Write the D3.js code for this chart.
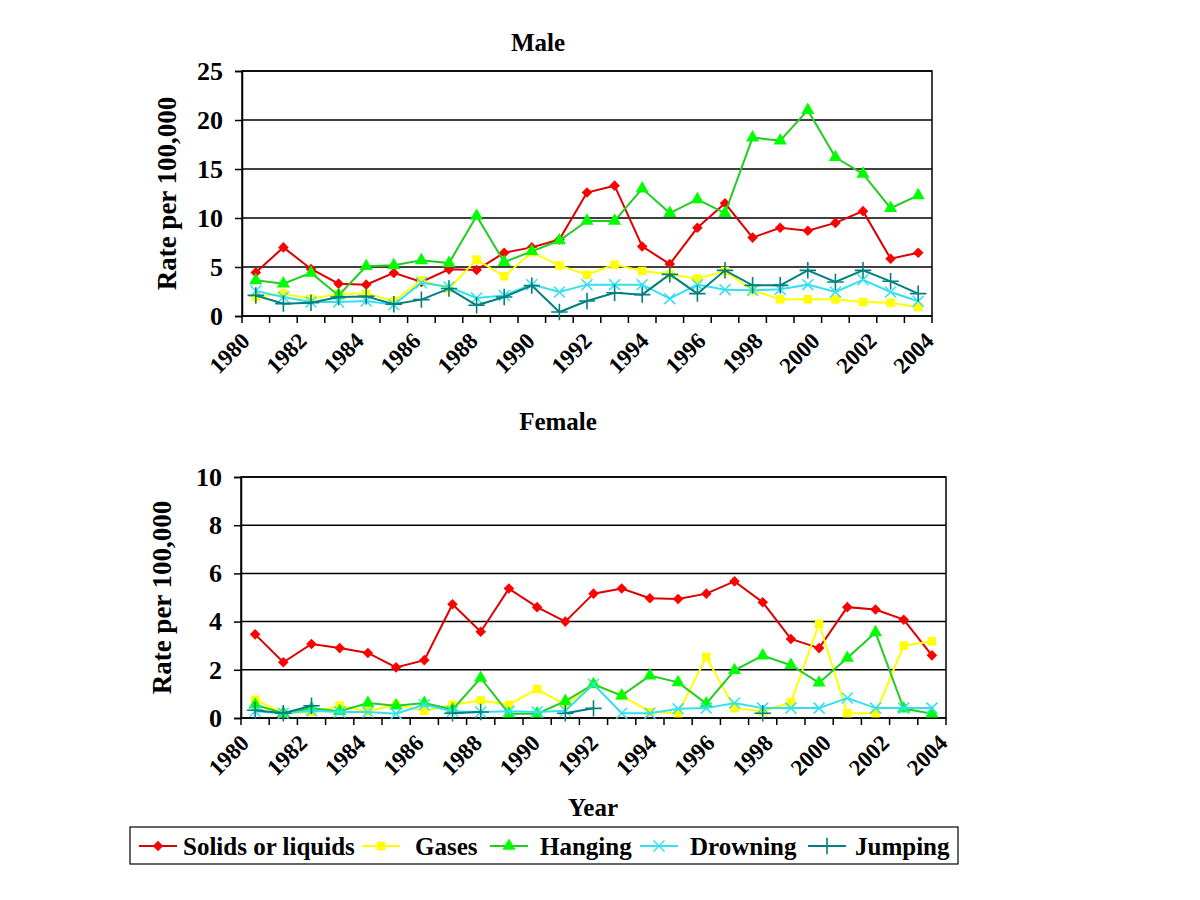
<!DOCTYPE html>
<html><head><meta charset="utf-8">
<script src="https://cdn.jsdelivr.net/npm/d3@7"></script>
<style>
body{margin:0;background:#fff;}
text{font-family:"Liberation Serif","Times New Roman",serif;font-weight:bold;fill:#000;}
</style>
</head><body>
<svg id="chart" width="1200" height="900"></svg>
<script>
const years = ["1980","1981","1982","1983","1984","1985","1986","1987","1988","1989","1990","1991","1992","1993","1994","1995","1996","1997","1998","1999","2000","2001","2002","2003","2004"];
const tickYears = ["1980","1982","1984","1986","1988","1990","1992","1994","1996","1998","2000","2002","2004"];
const seriesNames = ["Solids or liquids","Gases","Hanging","Drowning","Jumping"];
const lineColors = ["#dd0000","#ffff00","#22cc22","#33e0f0","#008080"];
const markerColors = ["#ff0000","#ffff00","#00ff00","#33e0f0","#008080"];

const maleTicks = [0,5,10,15,20,25];
const femaleTicks = [0,2,4,6,8,10];

const maleSolids   = [4.45,7.0,4.8,3.3,3.2,4.4,3.47,4.76,4.7,6.45,7.0,7.8,12.6,13.3,7.1,5.3,9.0,11.5,8.0,9.0,8.7,9.5,10.7,5.85,6.45];
const maleGases    = [1.94,2.28,1.77,2.28,2.28,1.53,3.64,2.8,5.75,4.05,6.5,5.17,4.22,5.24,4.59,4.25,3.81,4.59,2.62,1.7,1.7,1.7,1.43,1.36,0.9];
const maleHanging  = [3.64,3.3,4.4,2.1,5.07,5.17,5.68,5.4,10.2,5.5,6.6,7.7,9.7,9.7,13.0,10.5,11.9,10.5,18.2,17.9,21.0,16.2,14.5,11.0,12.3];
const maleDrowning = [2.55,1.94,1.43,1.43,1.53,1.15,3.4,2.96,1.84,2.1,3.2,2.45,3.2,3.2,3.2,1.77,3.2,2.69,2.62,2.72,3.2,2.45,3.7,2.45,1.5];
const maleJumping  = [2.1,1.26,1.36,1.94,2.0,1.2,1.67,2.8,1.09,1.94,3.1,0.41,1.53,2.38,2.18,4.25,2.28,4.66,3.13,3.13,4.66,3.47,4.66,3.54,2.28];

const femaleSolids   = [3.47,2.31,3.07,2.9,2.7,2.1,2.4,4.72,3.58,5.37,4.6,4.0,5.16,5.37,4.97,4.94,5.16,5.67,4.8,3.28,2.9,4.6,4.5,4.08,2.6];
const femaleGases    = [0.76,0.2,0.25,0.51,0.28,0.55,0.3,0.55,0.73,0.55,1.2,0.55,1.4,0.93,0.25,0.2,2.53,0.41,0.28,0.65,3.91,0.2,0.2,3.0,3.18];
const femaleHanging  = [0.55,0.2,0.4,0.28,0.62,0.51,0.62,0.35,1.66,0.18,0.18,0.7,1.4,0.93,1.76,1.48,0.6,1.98,2.59,2.19,1.46,2.49,3.55,0.39,0.18];
const femaleDrowning = [0.28,0.2,0.3,0.25,0.25,0.18,0.55,0.28,0.25,0.28,0.25,0.3,1.4,0.2,0.2,0.38,0.41,0.62,0.41,0.41,0.41,0.83,0.41,0.41,0.41];
const femaleJumping  = [0.32,0.2,0.51,null,null,null,null,0.2,0.25,null,null,0.2,0.4,null,null,null,null,null,0.2,null,null,null,null,null,null];

const svg = d3.select("#chart");

function marker(sel, k, color) {
  if (k === 0) sel.append("path").attr("d", d3.symbol(d3.symbolSquare, 56)()).attr("transform", "rotate(45)").attr("fill", color);
  else if (k === 1) sel.append("path").attr("d", d3.symbol(d3.symbolSquare, 72)()).attr("fill", color);
  else if (k === 2) sel.append("path").attr("d", d3.symbol(d3.symbolTriangle, 75)()).attr("fill", color);
  else if (k === 3) sel.append("path").attr("d", d3.symbol(d3.symbolX, 80)()).attr("fill", "none").attr("stroke", color).attr("stroke-width", 1.5);
  else sel.append("path").attr("d", d3.symbol(d3.symbolPlus, 90)()).attr("fill", "none").attr("stroke", color).attr("stroke-width", 1.6);
}

function panel(cfg) {
  const {x0, x1, y0, y1, domainMax, ticks, data, title, titleX, titleY, yTitleX} = cfg;
  const g = svg.append("g");
  const x = d3.scaleBand().domain(years).range([x0, x1]);
  const y = d3.scaleLinear().domain([0, domainMax]).range([y1, y0]);

  g.selectAll("line.grid").data(ticks).enter().append("line")
    .attr("x1", x0).attr("x2", x1).attr("y1", d => y(d)).attr("y2", d => y(d))
    .attr("stroke", "#000").attr("stroke-width", 1.5);
  g.append("rect").attr("x", x0).attr("y", y0).attr("width", x1 - x0).attr("height", y1 - y0)
    .attr("fill", "none").attr("stroke", "#000").attr("stroke-width", 1.5);

  const ya = d3.axisLeft(y).tickValues(ticks).tickSize(7).tickPadding(12).tickFormat(d3.format("d"));
  const yg = g.append("g").attr("transform", `translate(${x0},0)`).call(ya);
  yg.select(".domain").attr("stroke", "#000").attr("stroke-width", 1.5);
  yg.selectAll(".tick line").attr("stroke", "#000").attr("stroke-width", 1.5);
  yg.selectAll(".tick text").style("font-size", "26px").style("font-family", "Liberation Serif").style("font-weight", "bold").attr("fill", "#000");

  const bounds = years.map(d => x(d)).concat([x1]);
  g.selectAll("line.xt").data(bounds).enter().append("line")
    .attr("x1", d => d).attr("x2", d => d).attr("y1", y1).attr("y2", y1 + 7)
    .attr("stroke", "#000").attr("stroke-width", 1.5);
  g.selectAll("text.xl").data(tickYears).enter().append("text")
    .attr("text-anchor", "end")
    .attr("transform", (d, i) => `translate(${x(d) + x.bandwidth() / 2 - 16 + i * 1.8},${y1 + 15}) rotate(-45)`)
    .attr("dy", "0.7em")
    .style("font-size", "23px")
    .text(d => d);

  data.forEach((vals, k) => {
    const pts = years.map((yr, i) => ({yr, v: vals[i]}));
    const line = d3.line().defined(d => d.v != null)
      .x(d => x(d.yr) + x.bandwidth() / 2).y(d => y(d.v));
    g.append("path").datum(pts).attr("d", line).attr("fill", "none")
      .attr("stroke", lineColors[k]).attr("stroke-width", 2);
    pts.filter(d => d.v != null).forEach(d => {
      const m = g.append("g").attr("transform", `translate(${x(d.yr) + x.bandwidth() / 2},${y(d.v)})`);
      marker(m, k, markerColors[k]);
    });
  });

  g.append("text").attr("x", titleX).attr("y", titleY).attr("text-anchor", "middle")
    .style("font-size", "25px").text(title);
  g.append("text").attr("transform", `translate(${yTitleX},${(y0 + y1) / 2}) rotate(-90)`)
    .attr("text-anchor", "middle").style("font-size", "27px").text("Rate per 100,000");
}

panel({x0: 242, x1: 932, y0: 71, y1: 316, domainMax: 25, ticks: maleTicks,
  data: [maleSolids, maleGases, maleHanging, maleDrowning, maleJumping],
  title: "Male", titleX: 538, titleY: 51, yTitleX: 176});
panel({x0: 241, x1: 946, y0: 477, y1: 718, domainMax: 10, ticks: femaleTicks,
  data: [femaleSolids, femaleGases, femaleHanging, femaleDrowning, femaleJumping],
  title: "Female", titleX: 558, titleY: 430, yTitleX: 171});

svg.append("text").attr("x", 593).attr("y", 816).attr("text-anchor", "middle").style("font-size", "25px").text("Year");

const lg = svg.append("g");
lg.append("rect").attr("x", 130).attr("y", 827).attr("width", 828).attr("height", 37)
  .attr("fill", "#fff").attr("stroke", "#000").attr("stroke-width", 1.2);
const legendLineX = [139, 362, 490, 640, 808];
const legendTextX = [183, 415, 540, 690, 855];
seriesNames.forEach((name, k) => {
  const it = lg.append("g").attr("transform", `translate(0,846)`);
  it.append("line").attr("x1", legendLineX[k]).attr("x2", legendLineX[k] + 38).attr("stroke", lineColors[k]).attr("stroke-width", 2);
  const m = it.append("g").attr("transform", `translate(${legendLineX[k] + 19},0)`);
  marker(m, k, markerColors[k]);
  it.append("text").attr("x", legendTextX[k]).attr("y", 9).style("font-size", "25px").text(name);
});
</script>
</body></html>
